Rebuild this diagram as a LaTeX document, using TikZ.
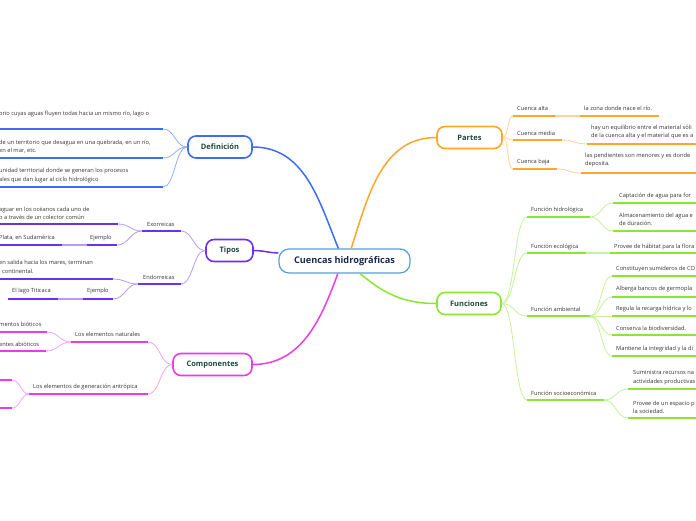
\documentclass[tikz,border=0pt]{standalone}
\usepackage{fontspec}
\setmainfont{Open Sans}
\usetikzlibrary{positioning}

\definecolor{rootc}{HTML}{5A9FD4}
\definecolor{roott}{HTML}{1B2B4F}
\definecolor{topict}{HTML}{1A4A3B}
\definecolor{leaft}{HTML}{363636}
\definecolor{defc}{HTML}{3D6DF7}
\definecolor{defl}{HTML}{91AFFA}
\definecolor{tipc}{HTML}{6B30F0}
\definecolor{tipl}{HTML}{B59CF8}
\definecolor{comc}{HTML}{E93CE9}
\definecolor{coml}{HTML}{F4A4F4}
\definecolor{parc}{HTML}{FFA62B}
\definecolor{parl}{HTML}{FFD39B}
\definecolor{func}{HTML}{8CE631}
\definecolor{funl}{HTML}{C6F29C}

\tikzset{
  root/.style={draw=rootc, line width=1.2pt, rounded corners=10pt, fill=white,
    minimum width=131pt, minimum height=24pt, text=roott,
    font=\fontsize{9.2}{11}\selectfont\bfseries},
  topic/.style={draw=#1, line width=1.6pt, rounded corners=8pt, fill=white,
    minimum height=22pt, text=topict, font=\fontsize{7.5}{9}\selectfont\bfseries},
  leaf/.style={anchor=west, inner sep=0pt, align=left, text=leaft,
    font=\fontsize{5.7}{8.3}\selectfont},
  uline/.style={draw=#1, line width=1.8pt},
  trunk/.style={draw=#1, line width=1.5pt},
  link/.style={draw=#1, line width=0.8pt},
}

\begin{document}
\begin{tikzpicture}[x=1pt, y=1pt]
  \path[use as bounding box, fill=white] (0,0) rectangle (696,-520);

  % centre
  \node[root] (root) at (344.5,-261) {Cuencas hidrográficas};

  % Definicion
  \node[topic=defc, minimum width=64pt] (def) at (220,-147) {Definición};
  \node[leaf] (d1) at (-1,-114) {orio cuyas aguas fluyen todas hacia un mismo río, lago o};
  \node[leaf] (d2) at (-1,-146.5) {de un territorio que desagua en una quebrada, en un río,\\en el mar, etc.};
  \node[leaf] (d3) at (-1,-175.5) {unidad territorial donde se generan los procesos\\ales que dan lugar al ciclo hidrológico};
  \coordinate (d1-a) at (-2,-129); \coordinate (d1-b) at (163,-129);
  \coordinate (d2-a) at (-2,-158); \coordinate (d2-b) at (163,-158);
  \coordinate (d3-a) at (-2,-187); \coordinate (d3-b) at (163,-187);

  % Tipos
  \node[topic=tipc, minimum width=47pt] (tipos) at (229.5,-250.5) {Tipos};
  \node[leaf] (exo) at (147,-224) {Exorreicas};
  \node[leaf] (exo1) at (-1,-213) {aguar en los océanos cada uno de\\o a través de un colector común};
  \node[leaf] (ej1) at (90,-238) {Ejemplo};
  \node[leaf] (pla) at (-1,-238) {Plata, en Sudamérica};
  \node[leaf] (endo) at (143,-277) {Endorreicas};
  \node[leaf] (endo1) at (-1,-267) {en salida hacia los mares, terminan\\\hspace*{3pt}continental.};
  \node[leaf] (ej2) at (87,-291) {Ejemplo};
  \node[leaf] (tit) at (12,-291) {El lago Titicaca};
  \coordinate (exo-a) at (142,-231);  \coordinate (exo-b) at (181,-231);
  \coordinate (exo1-a) at (-2,-224);  \coordinate (exo1-b) at (118,-224);
  \coordinate (ej1-a) at (87,-245);   \coordinate (ej1-b) at (117,-245);
  \coordinate (pla-a) at (-2,-245);   \coordinate (pla-b) at (62,-245);
  \coordinate (endo-a) at (138,-284); \coordinate (endo-b) at (181,-284);
  \coordinate (endo1-a) at (-2,-279); \coordinate (endo1-b) at (113,-279);
  \coordinate (ej2-a) at (83,-299);   \coordinate (ej2-b) at (113,-299);
  \coordinate (tit-a) at (8,-299);    \coordinate (tit-b) at (58,-299);

  % Componentes
  \node[topic=comc, minimum width=79pt] (comp) at (212.5,-364.5) {Componentes};
  \node[leaf] (nat) at (75,-334) {Los elementos naturales};
  \node[leaf] (bio) at (-1,-324) {mentos bióticos};
  \node[leaf] (abio) at (-1,-344) {entes abióticos};
  \node[leaf] (antr) at (33,-387) {Los elementos de generación antrópica};
  \coordinate (nat-a) at (71,-342);   \coordinate (nat-b) at (148,-342);
  \coordinate (bio-a) at (-2,-332);   \coordinate (bio-b) at (47,-332);
  \coordinate (abio-a) at (-2,-351);  \coordinate (abio-b) at (46,-351);
  \coordinate (antr-a) at (29,-394);  \coordinate (antr-b) at (148,-394);
  \coordinate (an1-a) at (-2,-380);   \coordinate (an1-b) at (12,-380);
  \coordinate (an2-a) at (-2,-408);   \coordinate (an2-b) at (12,-408);

  % Partes
  \node[topic=parc, minimum width=65pt] (partes) at (469.5,-137.5) {Partes};
  \node[leaf] (alta) at (517,-108) {Cuenca alta};
  \node[leaf] (altac) at (584,-108) {la zona donde nace el río.};
  \node[leaf] (media) at (517,-133) {Cuenca media};
  \node[leaf] (mediac) at (591,-132) {hay un equilibrio entre el material sóli\\de la cuenca alta y el material que es a};
  \node[leaf] (baja) at (517,-162) {Cuenca baja};
  \node[leaf] (bajac) at (585,-160) {las pendientes son menores y es donde\\deposita.};
  \coordinate (alta-a) at (513,-116);   \coordinate (alta-b) at (555,-116);
  \coordinate (altac-a) at (580,-116);  \coordinate (altac-b) at (659,-116);
  \coordinate (media-a) at (513,-140);  \coordinate (media-b) at (562,-140);
  \coordinate (mediac-a) at (587,-144); \coordinate (mediac-b) at (698,-144);
  \coordinate (baja-a) at (513,-169);   \coordinate (baja-b) at (557,-169);
  \coordinate (bajac-a) at (581,-173);  \coordinate (bajac-b) at (698,-173);

  % Funciones
  \node[topic=func, minimum width=64pt] (fun) at (469,-303.5) {Funciones};
  \node[leaf] (hid) at (531,-210) {Función hidrológica};
  \node[leaf] (hid1) at (619,-196) {Captación de agua para for};
  \node[leaf] (hid2) at (619,-219.5) {Almacenamiento del agua e\\de duración.};
  \node[leaf] (eco) at (531,-247) {Función ecológica};
  \node[leaf] (eco1) at (614,-247) {Provee de hábitat para la flora};
  \node[leaf] (amb) at (531,-309) {Función ambiental};
  \node[leaf] (amb1) at (616,-269) {Constituyen sumideros de CO};
  \node[leaf] (amb2) at (616,-289) {Alberga bancos de germopla};
  \node[leaf] (amb3) at (616,-309) {Regula la recarga hídrica y lo};
  \node[leaf] (amb4) at (616,-328) {Conserva la biodiversidad.};
  \node[leaf] (amb5) at (616,-349) {Mantiene la integridad y la di};
  \node[leaf] (soc) at (531,-393) {Función socioeconómica};
  \node[leaf] (soc1) at (633,-377.5) {Suministra recursos na\\actividades productivas};
  \node[leaf] (soc2) at (633,-407.5) {Provee de un espacio p\\la sociedad.};
  \coordinate (hid-a) at (527,-217);  \coordinate (hid-b) at (590,-217);
  \coordinate (hid1-a) at (613,-203); \coordinate (hid1-b) at (698,-203);
  \coordinate (hid2-a) at (613,-231); \coordinate (hid2-b) at (698,-231);
  \coordinate (eco-a) at (527,-253);  \coordinate (eco-b) at (586,-253);
  \coordinate (eco1-a) at (610,-253); \coordinate (eco1-b) at (698,-253);
  \coordinate (amb-a) at (527,-316);  \coordinate (amb-b) at (590,-316);
  \coordinate (amb1-a) at (612,-276); \coordinate (amb1-b) at (698,-276);
  \coordinate (amb2-a) at (612,-297); \coordinate (amb2-b) at (698,-297);
  \coordinate (amb3-a) at (612,-316); \coordinate (amb3-b) at (698,-316);
  \coordinate (amb4-a) at (612,-335); \coordinate (amb4-b) at (698,-335);
  \coordinate (amb5-a) at (612,-356); \coordinate (amb5-b) at (698,-356);
  \coordinate (soc-a) at (527,-400);  \coordinate (soc-b) at (604,-400);
  \coordinate (soc1-a) at (628,-389); \coordinate (soc1-b) at (698,-389);
  \coordinate (soc2-a) at (628,-418); \coordinate (soc2-b) at (698,-418);

  % underlines
  \foreach \n in {d1,d2,d3} \draw[uline=defc] (\n-a) -- (\n-b);
  \foreach \n in {exo,exo1,ej1,pla,endo,endo1,ej2,tit} \draw[uline=tipc] (\n-a) -- (\n-b);
  \foreach \n in {nat,bio,abio,antr,an1,an2} \draw[uline=comc] (\n-a) -- (\n-b);
  \foreach \n in {alta,altac,media,mediac,baja,bajac} \draw[uline=parc] (\n-a) -- (\n-b);
  \foreach \n in {hid,hid1,hid2,eco,eco1,amb,amb1,amb2,amb3,amb4,amb5,soc,soc1,soc2}
    \draw[uline=func] (\n-a) -- (\n-b);

  % main branches
  \draw[trunk=defc] (def.east) to[out=0,in=112] (root.116);
  \draw[trunk=tipc] (tipos.east) to[out=0,in=180] (root.173);
  \draw[trunk=comc] (root.242) to[out=250,in=0] (comp.east);
  \draw[trunk=parc] (root.62) to[out=72,in=180] (partes.west);
  \draw[trunk=func] (root.321) to[out=-40,in=180] (fun.west);

  % sub branches, left
  \foreach \n in {d1,d2,d3} \draw[link=defl] (def.west) to[out=180,in=0,distance=12pt] (\n-b);
  \foreach \n in {exo,endo} \draw[link=tipl] (tipos.west) to[out=180,in=0,distance=12pt] (\n-b);
  \foreach \n in {exo1,ej1} \draw[link=tipl] (exo-a) to[out=180,in=0,distance=12pt] (\n-b);
  \foreach \n in {endo1,ej2} \draw[link=tipl] (endo-a) to[out=180,in=0,distance=12pt] (\n-b);
  \draw[uline=tipl] (ej1-a) -- (pla-b);
  \draw[uline=tipl] (ej2-a) -- (tit-b);
  \foreach \n in {nat,antr} \draw[link=coml] (comp.west) to[out=180,in=0,distance=12pt] (\n-b);
  \foreach \n in {bio,abio} \draw[link=coml] (nat-a) to[out=180,in=0,distance=12pt] (\n-b);
  \foreach \n in {an1,an2} \draw[link=coml] (antr-a) to[out=180,in=0,distance=8pt] (\n-b);

  % sub branches, right
  \foreach \n in {alta,media,baja} \draw[link=parl] (partes.east) to[out=0,in=180,distance=6pt] (\n-a);
  \draw[uline=parl] (alta-b) -- (altac-a);
  \draw[link=parl] (media-b) to[out=0,in=180,distance=12pt] (mediac-a);
  \draw[link=parl] (baja-b) to[out=0,in=180,distance=12pt] (bajac-a);
  \foreach \n in {hid,eco,amb,soc} \draw[link=funl] (fun.east) to[out=0,in=180,distance=13pt] (\n-a);
  \foreach \n in {hid1,hid2} \draw[link=funl] (hid-b) to[out=0,in=180,distance=11pt] (\n-a);
  \draw[uline=funl] (eco-b) -- (eco1-a);
  \foreach \n in {amb1,amb2,amb3,amb4,amb5} \draw[link=funl] (amb-b) to[out=0,in=180,distance=11pt] (\n-a);
  \foreach \n in {soc1,soc2} \draw[link=funl] (soc-b) to[out=0,in=180,distance=12pt] (\n-a);
\end{tikzpicture}
\end{document}
